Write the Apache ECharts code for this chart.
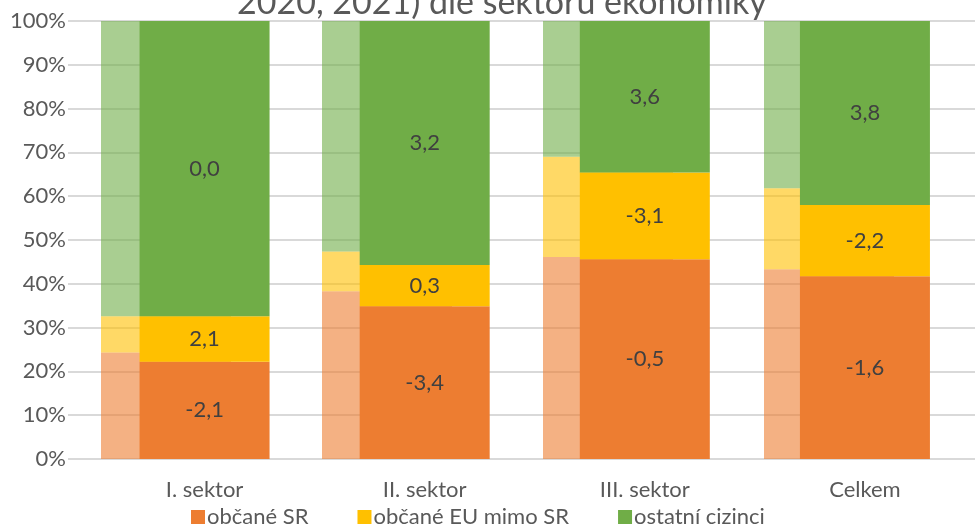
<!DOCTYPE html>
<html>
<head>
<meta charset="utf-8">
<script src="https://cdn.jsdelivr.net/npm/echarts@6/dist/echarts.min.js"></script>
<style>
  html, body { margin: 0; padding: 0; background: #ffffff; }
  #chart { width: 975px; height: 527px; }
</style>
</head>
<body>
<div id="chart"></div>
<script>
// Sektory ekonomiky
const sektory = ['I. sektor', 'II. sektor', 'III. sektor', 'Celkem'];

// Struktura zaměstnaných 2020 (podíl v %)
const obcaneSR2020 = [24.3, 38.3, 46.1, 43.3];
const obcaneEU2020 = [8.3, 9.1, 22.9, 18.5];
const ostatni2020 = [67.4, 52.6, 31.0, 38.2];

// Struktura zaměstnaných 2021 (podíl v %)
const obcaneSR2021 = [22.2, 34.9, 45.6, 41.7];
const obcaneEU2021 = [10.4, 9.4, 19.8, 16.3];
const ostatni2021 = [67.4, 55.7, 34.6, 42.0];

// Meziroční změna podílu (p. b.) – popisky segmentů
const zmenaSR = [-2.1, -3.4, -0.5, -1.6];
const zmenaEU = [2.1, 0.3, -3.1, -2.2];
const zmenaOstatni = [0.0, 3.2, 3.6, 3.8];

const nazvy = ['občané SR', 'občané EU mimo SR', 'ostatní cizinci'];
const barvy = ['#ED7D31', '#FFC000', '#70AD47'];

const FONT = 'Lato, "Open Sans", sans-serif';
const fmt = v => v.toFixed(1).replace('.', ',');

const plotTop = 21;
const plotHeight = 438;

function svetlaRada(idx, data) {
  return {
    name: nazvy[idx] + ' 2020',
    type: 'bar',
    stack: 'rok2020',
    xAxisIndex: 1,
    yAxisIndex: 1,
    barWidth: 130,
    z: 2,
    itemStyle: { color: barvy[idx], opacity: 0.6 },
    emphasis: { disabled: true },
    data: data
  };
}

function tmavaRada(idx, data, zmena) {
  return {
    name: nazvy[idx],
    type: 'bar',
    stack: 'rok2021',
    xAxisIndex: 2,
    yAxisIndex: 2,
    barWidth: 130,
    z: 3,
    itemStyle: { color: barvy[idx] },
    emphasis: { disabled: true },
    label: {
      show: true,
      position: 'inside',
      fontFamily: FONT,
      fontSize: 22,
      color: '#404040',
      formatter: p => fmt(zmena[p.dataIndex])
    },
    data: data
  };
}

const chart = echarts.init(document.getElementById('chart'), null, { renderer: 'canvas' });

chart.setOption({
  animation: false,
  backgroundColor: '#ffffff',
  title: {
    text: '2020, 2021) dle sektorů ekonomiky',
    left: 232,
    top: -19,
    textStyle: { fontFamily: FONT, fontSize: 34, fontWeight: 'normal', color: '#595959' }
  },
  legend: {
    data: nazvy,
    left: 186,
    bottom: -6,
    icon: 'rect',
    itemWidth: 14,
    itemHeight: 14,
    itemGap: 49,
    textStyle: { fontFamily: FONT, fontSize: 22, color: '#595959', padding: [0, 0, 0, -3] }
  },
  grid: [
    { left: 68, right: 0, top: plotTop, height: plotHeight },
    { left: 55.5, width: 884, top: plotTop, height: plotHeight },
    { left: 94.5, width: 884, top: plotTop, height: plotHeight }
  ],
  xAxis: [
    { gridIndex: 0, type: 'value', show: false, min: 0, max: 1 },
    { gridIndex: 1, type: 'category', data: sektory, show: false },
    {
      gridIndex: 2,
      type: 'category',
      data: sektory,
      axisLine: { show: false },
      axisTick: { show: false },
      axisLabel: { fontFamily: FONT, fontSize: 22, color: '#595959', margin: 20 }
    }
  ],
  yAxis: [
    {
      gridIndex: 0,
      type: 'value',
      min: 0,
      max: 100,
      interval: 10,
      axisLine: { show: false },
      axisTick: { show: false },
      splitLine: { lineStyle: { color: '#D9D9D9', width: 2 } },
      axisLabel: { formatter: '{value}%', fontFamily: FONT, fontSize: 22, color: '#595959', margin: 2 }
    },
    { gridIndex: 1, type: 'value', min: 0, max: 100, show: false },
    { gridIndex: 2, type: 'value', min: 0, max: 100, show: false }
  ],
  series: [
    svetlaRada(0, obcaneSR2020),
    svetlaRada(1, obcaneEU2020),
    svetlaRada(2, ostatni2020),
    tmavaRada(0, obcaneSR2021, zmenaSR),
    tmavaRada(1, obcaneEU2021, zmenaEU),
    tmavaRada(2, ostatni2021, zmenaOstatni)
  ]
});
</script>
</body>
</html>
